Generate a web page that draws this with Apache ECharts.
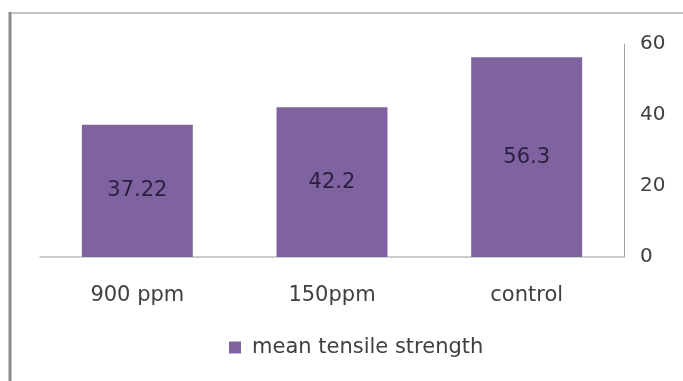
<!DOCTYPE html>
<html><head><meta charset="utf-8">
<script src="https://cdn.jsdelivr.net/npm/echarts@6/dist/echarts.min.js"></script>
<style>html,body{margin:0;padding:0;background:#fff}#c{width:683px;height:381px}</style>
</head><body><div id="c"></div>
<script>
var categories = ['900 ppm', '150ppm', 'control'];
var values = [37.22, 42.2, 56.3];
var seriesName = 'mean tensile strength';
var yTicks = [0, 20, 40, 60];

var chart = echarts.init(document.getElementById('c'), null, {renderer: 'canvas'});
var font = '"DejaVu Sans", sans-serif';
chart.setOption({
  animation: false,
  backgroundColor: '#fff',
  grid: {left: 40, right: 59, top: 44, bottom: 124},
  legend: {
    data: [seriesName], bottom: 18, left: 224, icon: 'rect', itemWidth: 12, itemHeight: 12, itemGap: 4,
    textStyle: {fontFamily: font, fontSize: 21, color: '#404040', padding: [0, 0, 0, 6]}
  },
  xAxis: {
    type: 'category', data: categories,
    axisLine: {show: true, lineStyle: {color: '#bdbdbd', width: 1.5}},
    axisTick: {show: false},
    axisLabel: {fontFamily: font, fontSize: 21, color: '#404040', margin: 28}
  },
  yAxis: {
    type: 'value', position: 'right', min: yTicks[0], max: yTicks[yTicks.length - 1], interval: 20,
    axisLine: {show: true, lineStyle: {color: '#a0a0a0', width: 1}},
    axisTick: {show: false},
    splitLine: {show: false},
    axisLabel: {fontFamily: font, fontSize: 20, color: '#404040', margin: 16}
  },
  series: [{
    name: seriesName, type: 'bar', data: values, barCategoryGap: '43%',
    itemStyle: {color: '#7F63A1'},
    label: {show: true, position: 'inside', fontFamily: font, fontSize: 21, color: '#2a1f3d'}
  }],
  graphic: [
    {type: 'line', shape: {x1: 9, y1: 13, x2: 683, y2: 13}, style: {stroke: '#c4c4c4', lineWidth: 2}},
    {type: 'line', shape: {x1: 10, y1: 12, x2: 10, y2: 381}, style: {stroke: '#8a8a8a', lineWidth: 3}}
  ]
});
</script></body></html>
